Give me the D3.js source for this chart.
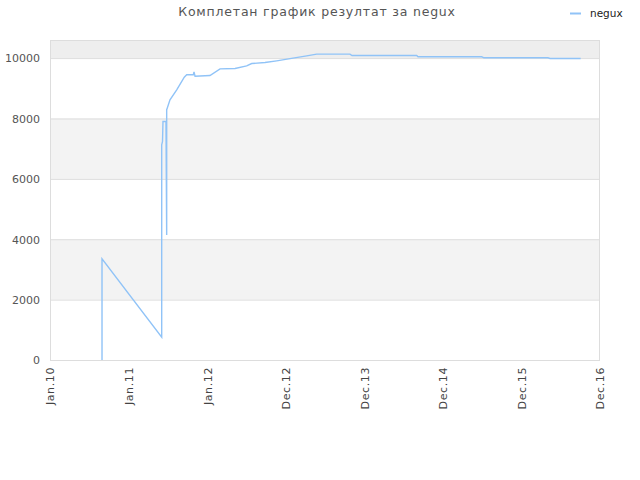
<!DOCTYPE html>
<html><head><meta charset="utf-8">
<script src="https://cdn.jsdelivr.net/npm/d3@7"></script>
<style>body{margin:0;background:#fff}svg{display:block}text{font-family:"DejaVu Sans",sans-serif}</style>
</head><body><svg id="c" width="640" height="480"></svg>
<script>
const title = "Комплетан график резултат за negux";
const seriesName = "negux";
const xTickLabels = ["Jan.10","Jan.11","Jan.12","Dec.12","Dec.13","Dec.14","Dec.15","Dec.16"];
const yTicks = [0,2000,4000,6000,8000,10000];
// x in tick-index units, y = score
const xs = [0.662,0.662,1.4216,1.4216,1.4216,1.432,1.438,1.476,1.485,1.485,1.493,1.527,1.6126,1.709,1.740,1.824,1.833,1.846,2.036,2.164,2.355,2.503,2.567,2.736,2.885,3.093,3.267,3.394,3.818,3.844,4.667,4.684,5.494,5.524,6.338,6.364,6.754];
const ys = [0,3350,760,3150,7130,7240,7900,7900,4140,8290,8350,8620,8950,9370,9450,9450,9546,9400,9423,9645,9655,9745,9821,9854,9910,10000,10076,10133,10133,10086,10086,10043,10043,10010,10010,9987,9987];

const svg = d3.select("#c");
const L=50,R=600,T=40,B=360;
const x = d3.scaleLinear().domain([0,7]).range([L,R]);
const y = d3.scaleLinear().domain([0,10600]).range([B,T]);

// bands
const bands=[[2000,4000,"#f3f3f3"],[6000,8000,"#f3f3f3"],[10000,10600,"#eeeeee"]];
svg.selectAll("rect.band").data(bands).enter().append("rect")
  .attr("x",L).attr("width",R-L).attr("y",d=>y(d[1])).attr("height",d=>y(d[0])-y(d[1])).attr("fill",d=>d[2]);
// grid
svg.selectAll("line.grid").data(yTicks).enter().append("line")
  .attr("x1",L).attr("x2",R).attr("y1",d=>y(d)+0.5).attr("y2",d=>y(d)+0.5).attr("stroke","#dddddd");
svg.append("rect").attr("x",L+0.5).attr("y",T+0.5).attr("width",R-L-1).attr("height",B-T).attr("fill","none").attr("stroke","#dddddd");

// y axis
const ya = d3.axisLeft(y).tickValues(yTicks).tickSize(0).tickPadding(10).tickFormat(d3.format("d"));
const gy = svg.append("g").attr("transform",`translate(${L},0)`).call(ya);
gy.select(".domain").remove();
gy.selectAll("text").attr("fill","#555").style("font-size","11px").attr("dy","0.35em");

// x axis
const xa = d3.axisBottom(x).tickValues(d3.range(8)).tickSize(0).tickFormat(i=>xTickLabels[i]);
const gx = svg.append("g").attr("transform",`translate(0,${B})`).call(xa);
gx.select(".domain").remove();
gx.selectAll("text").attr("fill","#444").style("font-size","11px").style("letter-spacing","0.6px")
  .attr("transform","rotate(-90)").attr("text-anchor","end").attr("x",-7).attr("y",0).attr("dy","0.35em");

// line
const pts = xs.map((v,i)=>[v,ys[i]]);
svg.append("path").datum(pts).attr("fill","none").attr("stroke","#90c3f7").attr("stroke-width",1.4)
  .attr("d",d3.line().x(d=>x(d[0])).y(d=>y(d[1])));

// title
svg.append("text").attr("x",317).attr("y",16).attr("text-anchor","middle").attr("fill","#555")
  .style("font-size","12.5px").style("letter-spacing","0.8px").text(title);
// legend
svg.append("line").attr("x1",570).attr("x2",581).attr("y1",13.5).attr("y2",13.5).attr("stroke","#90c3f7").attr("stroke-width",2);
svg.append("text").attr("x",590).attr("y",17).attr("fill","#222").style("font-size","10.5px").text(seriesName);
</script></body></html>
